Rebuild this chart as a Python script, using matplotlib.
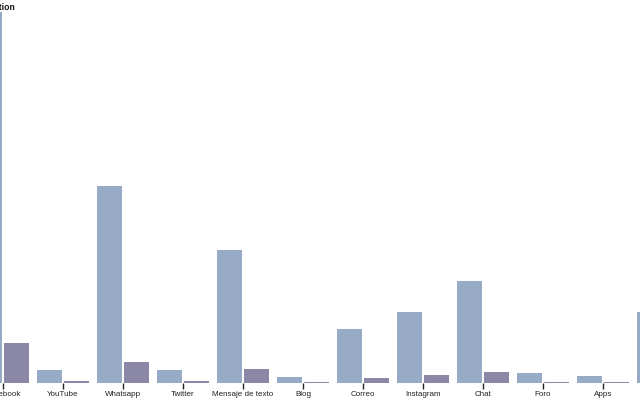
import matplotlib.pyplot as plt
import numpy as np

plt.rcParams['font.family'] = ['Liberation Sans', 'DejaVu Sans']

categories = ['Facebook', 'YouTube', 'Whatsapp', 'Twitter', 'Mensaje de texto', 'Blog',
              'Correo', 'Instagram', 'Chat', 'Foro', 'Apps', '']
# two series per category
serie_a = [371, 13, 197, 13, 133, 6, 54, 71, 102, 10, 7, 71]
serie_b = [40, 2, 21, 2, 14, 1, 5, 8, 11, 1, 1, 0]

color_a = '#98abc6'
color_b = '#8b87a7'

fig = plt.figure(figsize=(6.4, 4), dpi=100)
ax = fig.add_axes([0, 17 / 400, 1, 383 / 400])

x = np.arange(len(categories))
w = 25 / 60
# first series sits left of the tick, second right of it
ax.bar(x - 1 / 60 - w, serie_a, width=w, align='edge', color=color_a, linewidth=0)
ax.bar(x + 1 / 60, np.maximum(serie_b, 1), width=w, align='edge', color=color_b, linewidth=0)

ax.set_xticks(x)
ax.set_xticklabels(categories, fontsize=5.8)
ax.set_xlim(-3 / 60, 637 / 60)
ax.set_ylim(0, 383)
ax.tick_params(axis='x', length=4, width=1, color='#222222', pad=2, labelcolor='#222222')
ax.set_yticks([])
for s in ax.spines.values():
    s.set_visible(False)

fig.text(15.5 / 640, 1 - 8 / 400, 'Communication', ha='right', va='center',
         fontsize=6.2, fontweight='bold', color='#111111')

fig.savefig('out.png', dpi=100)
